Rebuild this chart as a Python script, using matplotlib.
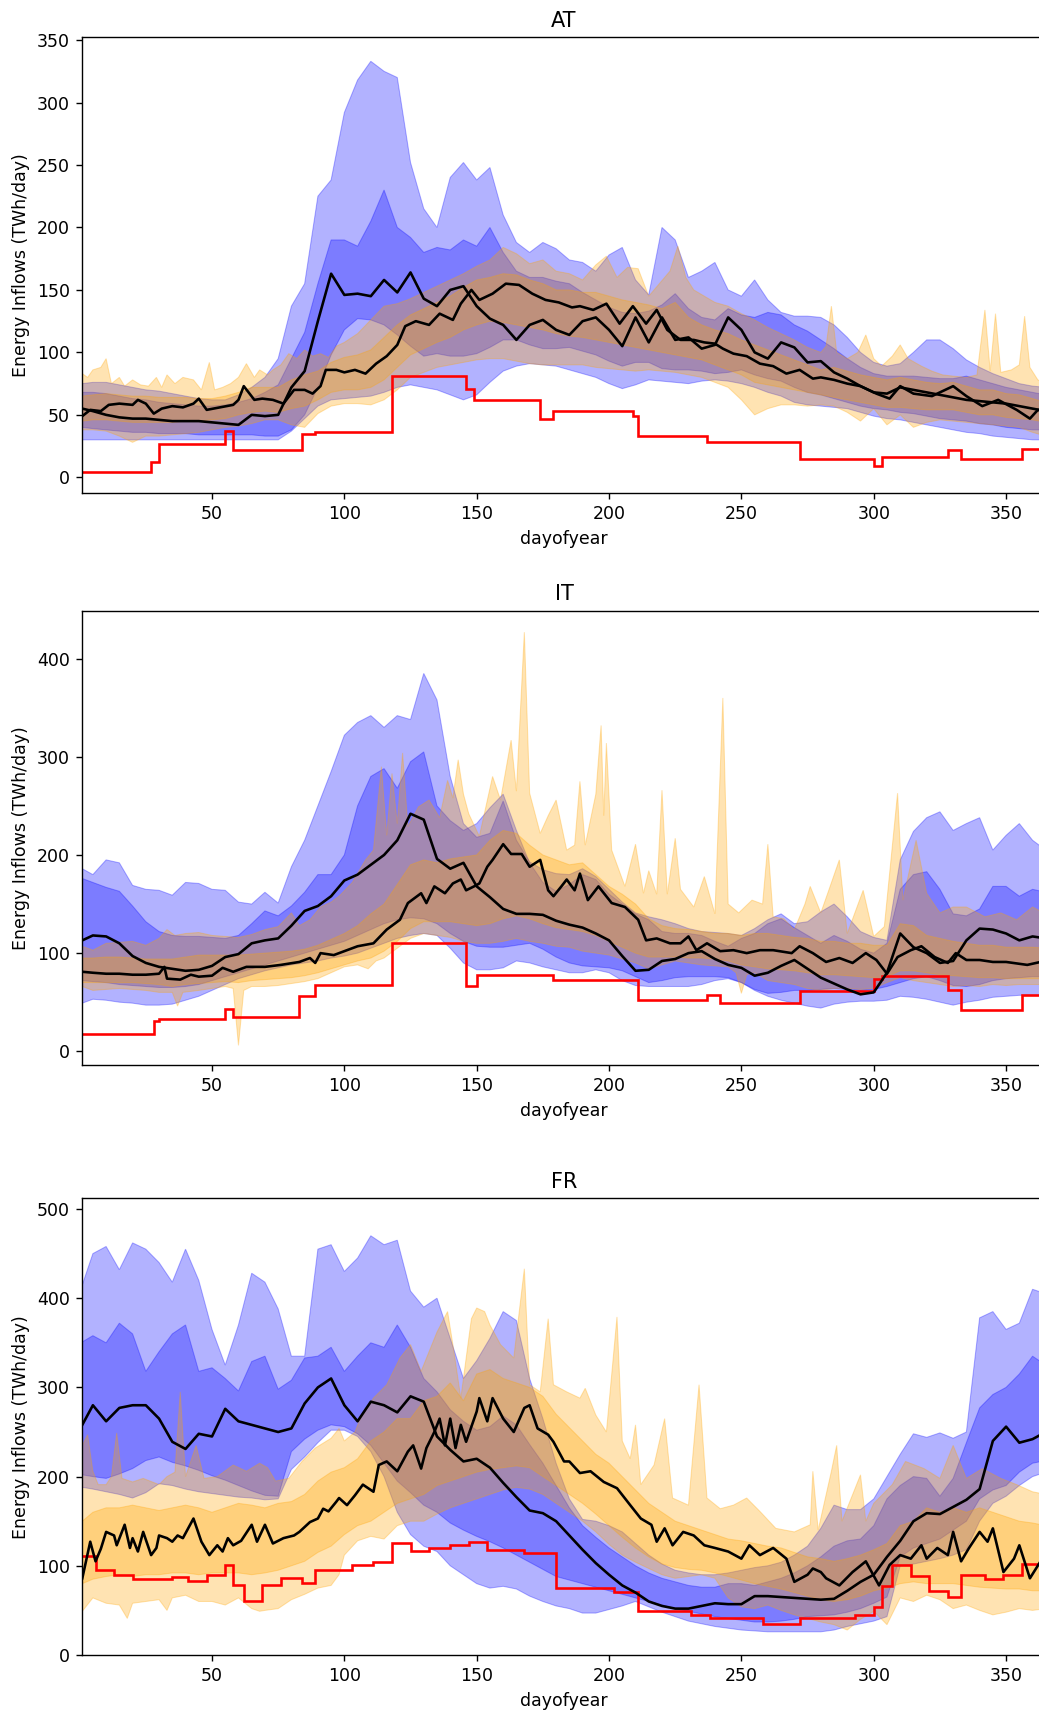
"""Energy inflows per day of year for AT, IT and FR.

Blue: historical envelope (outer = min/max, inner = quantile band),
orange: simulated inflows, black: medians, red: reference step profile.
"""

import matplotlib
matplotlib.use("Agg")
import matplotlib.pyplot as plt  # noqa: E402
import numpy as np  # noqa: E402

# common day grid for the smooth bands (1, 5, 10, ..., 365)
DAYS = [1] + list(range(5, 366, 5))

# ---------------------------------------------------------------- AT
AT_B_OUT_HI = [75, 76, 76, 74, 72, 70, 69, 67, 65, 63,
               62, 62, 66, 72, 80, 95, 137, 155, 225, 238,
               292, 318, 333, 325, 320, 252, 215, 200, 240, 252,
               238, 248, 210, 188, 180, 188, 183, 174, 172, 165,
               178, 184, 158, 146, 200, 190, 160, 165, 172, 150,
               145, 158, 142, 132, 129, 129, 128, 122, 112, 100,
               92, 89, 91, 100, 110, 110, 103, 94, 88, 83,
               79, 75, 73, 72]
AT_B_OUT_LO = [30, 30, 30, 30, 30, 30, 30, 30, 30, 30,
               30, 30, 30, 30, 30, 30, 37, 47, 57, 62,
               63, 64, 65, 68, 72, 74, 72, 70, 66, 62,
               66, 76, 85, 89, 91, 90, 89, 86, 83, 80,
               75, 71, 74, 78, 77, 76, 75, 77, 78, 77,
               75, 72, 68, 65, 60, 58, 57, 56, 55, 52,
               49, 47, 46, 44, 42, 40, 38, 36, 35, 33,
               32, 31, 30, 30]
AT_B_IN_HI = [68, 68, 67, 65, 63, 62, 60, 59, 58, 57,
              57, 58, 60, 63, 68, 74, 95, 116, 155, 190,
              190, 185, 205, 230, 200, 192, 180, 184, 182, 190,
              185, 200, 180, 165, 160, 160, 157, 155, 148, 142,
              136, 132, 131, 133, 138, 147, 135, 128, 126, 135,
              130, 128, 132, 130, 122, 117, 110, 103, 95, 88,
              83, 81, 81, 81, 80, 79, 79, 81, 78, 75,
              72, 70, 68, 66]
AT_B_IN_LO = [40, 39, 38, 37, 36, 36, 35, 35, 35, 34,
              34, 34, 34, 34, 33, 33, 38, 50, 72, 98,
              118, 127, 126, 122, 114, 105, 97, 99, 97, 97,
              99, 104, 110, 110, 106, 103, 103, 104, 101, 98,
              93, 89, 92, 92, 87, 86, 86, 85, 83, 84,
              86, 82, 79, 77, 72, 68, 66, 63, 60, 57,
              55, 54, 52, 51, 49, 47, 46, 45, 43, 42,
              40, 39, 38, 38]
AT_B_MED = [55, 53, 50, 48, 47, 47, 46, 45, 45, 45,
            44, 43, 42, 50, 49, 50, 72, 85, 125, 163,
            146, 147, 145, 158, 148, 164, 143, 137, 150, 153,
            137, 127, 122, 110, 122, 126, 118, 114, 125, 128,
            118, 105, 128, 108, 128, 110, 112, 103, 106, 128,
            118, 100, 95, 108, 104, 92, 93, 84, 79, 73,
            68, 67, 72, 70, 68, 66, 64, 62, 61, 60,
            59, 57, 55, 53]
AT_O_IN_HI = [65, 66, 67, 66, 65, 65, 64, 64, 64, 63,
              63, 65, 68, 72, 72, 72, 78, 82, 85, 92,
              96, 98, 102, 112, 122, 130, 135, 140, 145, 152,
              158, 160, 163, 162, 158, 155, 150, 150, 148, 148,
              145, 142, 140, 138, 135, 140, 128, 122, 118, 115,
              110, 106, 102, 98, 94, 90, 86, 88, 85, 82,
              80, 78, 80, 78, 76, 75, 76, 73, 70, 70,
              67, 66, 63, 60]
AT_O_IN_LO = [45, 46, 46, 45, 44, 44, 44, 44, 45, 45,
              46, 47, 50, 52, 53, 52, 55, 57, 62, 68,
              70, 70, 72, 78, 88, 98, 103, 108, 112, 118,
              122, 125, 124, 122, 120, 118, 115, 113, 112, 110,
              108, 106, 104, 102, 100, 98, 96, 94, 90, 86,
              82, 76, 74, 72, 70, 68, 66, 64, 62, 60,
              58, 56, 56, 55, 54, 54, 54, 52, 50, 50,
              48, 47, 46, 44]
AT_O_OUT_LO_D = DAYS
AT_O_OUT_LO = [38, 38, 37, 33, 28, 33, 33, 34, 35, 36,
               38, 40, 41, 43, 46, 46, 42, 40, 51, 57,
               59, 59, 58, 62, 70, 80, 84, 88, 90, 92,
               94, 95, 95, 93, 91, 90, 90, 90, 90, 88,
               87, 86, 85, 86, 85, 84, 82, 80, 76, 72,
               62, 50, 55, 58, 58, 57, 58, 57, 52, 45,
               55, 42, 50, 40, 44, 46, 45, 44, 43, 42,
               41, 40, 36, 33]
AT_O_OUT_HI_D = [1, 3, 5, 8, 10, 12, 15, 17, 20, 23,
                 26, 29, 31, 33, 36, 39, 43, 46, 49, 51,
                 54, 57, 60, 63, 66, 68, 71, 73, 76, 79,
                 82, 85, 88, 91, 94, 97, 100, 105, 110, 115,
                 120, 125, 130, 135, 140, 145, 150, 155, 160, 165,
                 170, 175, 180, 185, 190, 195, 199, 203, 207, 211,
                 215, 219, 223, 226, 229, 232, 236, 240, 245, 250,
                 255, 260, 265, 270, 275, 280, 282, 284, 286, 290,
                 294, 297, 300, 303, 307, 310, 313, 318, 322, 326,
                 330, 335, 339, 342, 344, 346, 348, 352, 355, 357,
                 359, 362, 365]
AT_O_OUT_HI = [83, 80, 86, 88, 95, 75, 80, 73, 78, 74,
               73, 80, 72, 82, 75, 80, 78, 70, 92, 70,
               72, 75, 80, 91, 80, 86, 82, 86, 90, 99,
               95, 102, 97, 99, 96, 105, 108, 115, 126, 137,
               139, 143, 148, 153, 158, 163, 169, 174, 184, 179,
               171, 174, 165, 163, 158, 170, 177, 160, 168, 167,
               145, 155, 165, 185, 160, 150, 145, 140, 137, 131,
               126, 120, 115, 110, 104, 100, 105, 137, 100, 95,
               100, 114, 95, 89, 97, 106, 95, 89, 85, 82,
               81, 80, 82, 134, 85, 131, 84, 86, 90, 129,
               88, 78, 75]
AT_O_MED_D = [1, 4, 8, 11, 15, 20, 22, 25, 28, 31,
              35, 39, 43, 45, 48, 53, 58, 60, 62, 66,
              69, 73, 77, 81, 85, 88, 91, 93, 97, 100,
              104, 108, 112, 116, 120, 123, 127, 132, 136, 141,
              144, 148, 151, 156, 161, 166, 171, 176, 181, 186,
              189, 194, 199, 204, 209, 214, 218, 222, 227, 232,
              236, 240, 243, 247, 252, 257, 262, 267, 272, 277,
              280, 285, 290, 295, 301, 306, 310, 315, 322, 330,
              335, 341, 347, 354, 359, 362, 365]
AT_O_MED = [49, 54, 53, 58, 59, 58, 62, 59, 51, 55,
            57, 56, 59, 63, 54, 56, 58, 62, 73, 62,
            63, 62, 59, 70, 70, 67, 73, 86, 86, 84,
            86, 83, 91, 97, 106, 121, 125, 122, 131, 126,
            139, 150, 142, 147, 155, 154, 147, 142, 140, 136,
            137, 134, 139, 123, 137, 123, 134, 118, 110, 110,
            108, 107, 103, 99, 97, 91, 89, 83, 86, 79,
            80, 78, 75, 73, 67, 63, 73, 67, 65, 73,
            65, 57, 62, 54, 47, 54, 52]
AT_RED_EDGES = [1, 27, 30, 55, 58, 84, 89, 118, 146, 149, 174,
                179, 209, 211, 237, 272, 300, 303, 328, 333, 356, 365]
AT_RED_LEVELS = [4, 12, 27, 37, 22, 35, 36, 81, 71, 62,
                 47, 53, 49, 33, 28, 15, 9, 16, 22, 15, 23]

# ---------------------------------------------------------------- IT
IT_B_OUT_HI = [186, 180, 195, 192, 169, 165, 164, 159, 172, 171,
               165, 164, 152, 150, 162, 151, 188, 215, 250, 285,
               322, 335, 342, 330, 342, 338, 385, 358, 280, 232,
               218, 222, 255, 215, 193, 185, 181, 180, 186, 178,
               165, 152, 141, 137, 134, 130, 125, 122, 121, 120,
               118, 125, 134, 140, 130, 132, 142, 150, 137, 122,
               116, 113, 195, 224, 238, 244, 225, 232, 238, 205,
               220, 232, 215, 205]
IT_B_OUT_LO = [49, 53, 52, 50, 49, 47, 47, 48, 52, 56,
               62, 68, 74, 78, 82, 85, 88, 90, 92, 95,
               97, 100, 105, 110, 115, 118, 120, 118, 105, 90,
               83, 83, 85, 92, 90, 86, 83, 80, 80, 83,
               80, 72, 67, 66, 66, 66, 66, 68, 72, 74,
               70, 62, 56, 52, 49, 46, 44, 48, 50, 51,
               51, 52, 56, 55, 53, 50, 47, 50, 52, 55,
               56, 57, 57, 57]
IT_B_IN_HI = [176, 172, 167, 163, 148, 132, 122, 118, 117, 117,
              116, 115, 118, 130, 143, 138, 148, 162, 180, 180,
              200, 250, 280, 288, 268, 295, 305, 250, 235, 225,
              232, 248, 262, 225, 192, 172, 163, 170, 180, 175,
              160, 150, 140, 134, 122, 120, 120, 118, 112, 107,
              115, 120, 130, 135, 126, 118, 110, 118, 112, 104,
              100, 110, 165, 180, 183, 165, 140, 138, 145, 168,
              168, 158, 165, 162]
IT_B_IN_LO = [72, 71, 70, 68, 67, 66, 65, 65, 66, 68,
              72, 76, 80, 84, 88, 92, 96, 100, 104, 108,
              112, 118, 124, 130, 134, 136, 135, 130, 120, 112,
              107, 106, 106, 108, 110, 104, 96, 90, 87, 86,
              85, 82, 76, 70, 72, 75, 76, 76, 76, 75,
              70, 63, 59, 60, 62, 62, 63, 64, 63, 62,
              63, 66, 70, 74, 76, 72, 67, 66, 68, 72,
              74, 75, 76, 76]
IT_B_MED = [113, 118, 117, 110, 97, 90, 86, 84, 82, 83,
            87, 96, 99, 110, 113, 115, 128, 143, 148, 158,
            174, 180, 190, 200, 215, 242, 236, 196, 186, 192,
            168, 157, 145, 140, 140, 139, 133, 129, 126, 120,
            113, 97, 82, 83, 92, 94, 100, 102, 94, 88,
            85, 77, 80, 87, 93, 84, 75, 69, 63, 58,
            60, 80, 120, 106, 100, 90, 92, 113, 125, 124,
            120, 113, 117, 115]
IT_O_IN_HI = [95, 95, 96, 96, 95, 94, 94, 94, 96, 98,
              98, 98, 98, 99, 100, 101, 102, 104, 108, 114,
              120, 128, 140, 150, 170, 190, 195, 192, 196, 198,
              200, 215, 225, 222, 210, 200, 195, 190, 192, 180,
              168, 160, 150, 135, 128, 125, 124, 122, 120, 120,
              118, 120, 120, 118, 116, 115, 112, 112, 110, 110,
              108, 108, 130, 128, 118, 115, 112, 110, 108, 108,
              106, 106, 106, 105]
IT_O_IN_LO = [70, 70, 70, 70, 70, 69, 68, 66, 68, 69,
              70, 71, 70, 72, 73, 74, 75, 77, 80, 84,
              88, 92, 95, 102, 112, 125, 132, 132, 132, 130,
              128, 130, 135, 138, 135, 130, 126, 124, 122, 118,
              112, 106, 100, 96, 96, 96, 95, 95, 94, 92,
              88, 86, 84, 83, 82, 80, 78, 78, 77, 76,
              75, 76, 82, 82, 80, 78, 77, 76, 75, 75,
              74, 74, 74, 74]
IT_O_OUT_HI_D = [1, 5, 10, 15, 20, 25, 30, 33, 36, 40,
                 45, 50, 55, 60, 65, 70, 75, 80, 83, 87,
                 91, 95, 98, 103, 108, 111, 114, 116, 118, 120,
                 122, 124, 128, 132, 136, 139, 141, 143, 145, 147,
                 151, 156, 159, 163, 165, 168, 170, 174, 177, 180,
                 184, 187, 189, 191, 195, 197, 198, 199, 201, 206,
                 210, 213, 215, 218, 220, 222, 225, 227, 232, 236,
                 240, 243, 245, 249, 254, 258, 260, 262, 266, 270,
                 274, 276, 280, 283, 287, 290, 296, 300, 304, 309,
                 311, 316, 320, 325, 330, 335, 342, 348, 354, 360,
                 365]
IT_O_OUT_HI = [107, 103, 110, 111, 112, 108, 115, 124, 118, 120,
               121, 118, 117, 116, 119, 124, 127, 141, 128, 134,
               147, 152, 158, 172, 195, 205, 290, 220, 283, 232,
               304, 229, 249, 256, 238, 276, 258, 297, 262, 242,
               219, 280, 256, 317, 265, 427, 263, 222, 240, 256,
               205, 210, 275, 210, 262, 332, 240, 314, 205, 168,
               211, 161, 184, 160, 266, 160, 217, 165, 147, 178,
               140, 360, 150, 141, 154, 150, 211, 137, 135, 124,
               150, 168, 141, 164, 195, 120, 164, 117, 127, 263,
               154, 215, 161, 141, 147, 147, 137, 141, 134, 147,
               140]
IT_O_OUT_LO_D = [1, 5, 10, 15, 20, 25, 30, 35, 37, 39,
                 45, 50, 55, 58, 60, 62, 65, 70, 75, 80,
                 85, 90, 95, 100, 105, 109, 112, 115, 120, 125,
                 130, 135, 140, 145, 150, 155, 160, 165, 170, 175,
                 180, 185, 190, 195, 200, 205, 210, 215, 220, 225,
                 230, 235, 240, 245, 248, 250, 252, 255, 260, 265,
                 270, 275, 280, 285, 290, 295, 300, 305, 310, 315,
                 320, 325, 330, 335, 340, 345, 350, 355, 360, 365]
IT_O_OUT_LO = [66, 62, 63, 64, 63, 62, 60, 60, 46, 60,
               62, 64, 66, 64, 6, 62, 66, 66, 67, 69,
               71, 74, 80, 86, 88, 84, 92, 95, 105, 115,
               120, 118, 116, 112, 110, 110, 112, 115, 112, 110,
               107, 106, 102, 100, 98, 94, 90, 84, 88, 92,
               90, 88, 87, 86, 80, 59, 78, 80, 72, 70,
               68, 64, 62, 64, 64, 63, 64, 70, 75, 72,
               70, 68, 66, 67, 66, 68, 67, 68, 68, 68]
IT_O_MED_D = [1, 5, 10, 15, 20, 25, 30, 32, 33, 38,
              42, 45, 50, 54, 58, 63, 70, 76, 83, 87,
              89, 91, 96, 101, 105, 111, 116, 121, 124, 129,
              131, 134, 138, 141, 144, 146, 149, 151, 154, 156,
              160, 163, 167, 170, 174, 177, 179, 182, 184, 187,
              189, 192, 196, 201, 206, 211, 214, 218, 223, 227,
              230, 233, 237, 242, 247, 252, 257, 262, 269, 272,
              277, 282, 287, 292, 297, 301, 305, 309, 314, 318,
              323, 328, 331, 335, 340, 345, 350, 358, 363, 365]
IT_O_MED = [81, 80, 79, 79, 78, 78, 79, 86, 74, 73,
            78, 76, 77, 85, 81, 86, 86, 88, 91, 95,
            90, 100, 98, 103, 107, 110, 124, 134, 151, 161,
            151, 168, 161, 171, 175, 164, 168, 171, 188, 195,
            211, 201, 201, 188, 195, 164, 158, 168, 175, 164,
            181, 154, 168, 151, 147, 134, 113, 115, 110, 110,
            117, 103, 110, 102, 103, 100, 103, 103, 100, 107,
            100, 91, 95, 90, 100, 93, 79, 96, 103, 107,
            96, 90, 100, 93, 93, 91, 91, 88, 91, 90]
IT_RED_EDGES = [1, 28, 30, 55, 58, 83, 89, 118, 146, 150, 179,
                211, 237, 242, 272, 300, 303, 328, 333, 356, 365]
IT_RED_LEVELS = [18, 31, 33, 43, 35, 56, 68, 110, 66, 78,
                 73, 52, 57, 49, 61, 74, 77, 62, 42, 57]

# ---------------------------------------------------------------- FR
FR_B_OUT_HI = [415, 450, 458, 432, 462, 455, 440, 418, 455, 420,
               365, 325, 370, 428, 418, 388, 335, 335, 455, 460,
               430, 445, 470, 460, 465, 408, 390, 400, 355, 310,
               330, 355, 385, 375, 310, 265, 215, 175, 152, 150,
               145, 138, 125, 112, 102, 95, 92, 90, 90, 92,
               95, 98, 100, 104, 112, 122, 142, 168, 163, 163,
               175, 200, 225, 248, 244, 249, 243, 250, 378, 385,
               365, 372, 410, 405]
FR_B_OUT_LO = [188, 186, 183, 180, 176, 182, 192, 190, 186, 183,
               181, 179, 177, 176, 174, 175, 208, 222, 238, 252,
               252, 245, 228, 200, 160, 135, 122, 116, 100, 90,
               80, 75, 77, 74, 66, 60, 55, 52, 47, 47,
               51, 55, 60, 54, 48, 43, 38, 35, 32, 30,
               28, 27, 26, 26, 26, 26, 26, 28, 32, 35,
               38, 43, 100, 102, 105, 108, 112, 118, 150, 170,
               178, 190, 200, 205]
FR_B_IN_HI = [351, 358, 350, 372, 360, 318, 340, 360, 370, 318,
              322, 310, 296, 329, 335, 298, 308, 333, 335, 345,
              318, 335, 350, 345, 370, 345, 310, 295, 275, 262,
              252, 256, 268, 258, 236, 215, 190, 165, 145, 132,
              120, 110, 100, 92, 86, 82, 78, 76, 76, 80,
              80, 78, 82, 86, 92, 100, 110, 122, 128, 130,
              145, 175, 190, 200, 198, 178, 198, 238, 277, 292,
              300, 315, 335, 325]
FR_B_IN_LO = [202, 200, 198, 203, 209, 218, 222, 216, 212, 207,
              201, 196, 190, 184, 179, 178, 228, 242, 252, 258,
              256, 248, 235, 215, 195, 182, 168, 160, 148, 140,
              133, 127, 120, 112, 104, 96, 88, 84, 80, 76,
              72, 68, 64, 60, 56, 52, 49, 46, 43, 41,
              39, 37, 37, 38, 40, 43, 44, 45, 48, 52,
              58, 65, 110, 120, 125, 130, 140, 150, 175, 185,
              190, 205, 215, 218]
FR_B_MED = [258, 280, 262, 277, 280, 280, 265, 239, 231, 248,
            245, 276, 262, 258, 254, 250, 254, 282, 300, 310,
            280, 262, 284, 280, 272, 290, 284, 245, 230, 217,
            220, 210, 193, 177, 162, 159, 150, 134, 118, 103,
            90, 78, 70, 60, 55, 52, 52, 55, 58, 57,
            57, 66, 66, 65, 64, 63, 62, 63, 72, 82,
            90, 110, 128, 150, 159, 158, 166, 174, 186, 240,
            256, 238, 242, 250]
FR_O_IN_HI = [150, 160, 165, 165, 168, 165, 162, 165, 168, 165,
              160, 165, 170, 168, 165, 170, 172, 180, 195, 205,
              210, 220, 240, 250, 265, 265, 285, 290, 305, 285,
              315, 320, 310, 305, 300, 290, 270, 255, 240, 225,
              215, 200, 185, 170, 160, 150, 145, 140, 135, 130,
              128, 125, 122, 120, 115, 110, 108, 105, 108, 112,
              118, 125, 145, 150, 165, 160, 165, 160, 165, 160,
              155, 150, 148, 145]
FR_O_IN_LO = [80, 85, 88, 90, 88, 90, 90, 92, 92, 90,
              92, 92, 92, 90, 92, 95, 100, 105, 115, 122,
              135, 145, 150, 160, 170, 175, 180, 190, 195, 200,
              205, 208, 210, 212, 210, 200, 190, 180, 170, 158,
              145, 132, 120, 110, 102, 98, 96, 95, 92, 88,
              84, 80, 77, 74, 70, 66, 62, 60, 62, 66,
              72, 75, 80, 82, 80, 80, 80, 78, 76, 75,
              74, 74, 72, 72]
FR_O_OUT_HI_D = [1, 3, 5, 7, 10, 12, 14, 16, 20, 24,
                 30, 33, 36, 38, 40, 44, 47, 52, 58, 63,
                 68, 71, 74, 79, 84, 89, 95, 98, 100, 104,
                 106, 111, 116, 121, 125, 129, 132, 135, 139, 141,
                 144, 148, 150, 153, 155, 159, 164, 168, 170, 174,
                 177, 179, 184, 189, 191, 195, 199, 203, 205, 208,
                 210, 212, 217, 221, 224, 230, 234, 237, 242, 247,
                 252, 257, 263, 270, 276, 277, 279, 284, 286, 288,
                 295, 297, 300, 307, 312, 319, 325, 330, 335, 341,
                 348, 354, 360, 365]
FR_O_OUT_HI = [235, 247, 206, 191, 191, 200, 249, 198, 194, 198,
               191, 200, 205, 295, 200, 235, 198, 200, 213, 206,
               215, 210, 195, 198, 217, 232, 243, 254, 240, 250,
               265, 288, 303, 333, 348, 318, 340, 362, 385, 348,
               288, 377, 389, 385, 370, 348, 333, 433, 303, 295,
               377, 303, 295, 288, 299, 269, 250, 379, 240, 220,
               258, 191, 213, 265, 176, 168, 303, 176, 164, 168,
               176, 161, 142, 138, 146, 206, 140, 206, 235, 150,
               202, 150, 170, 191, 217, 209, 198, 235, 198, 209,
               198, 191, 183, 180]
FR_O_OUT_LO_D = [1, 5, 10, 15, 18, 20, 25, 30, 33, 35,
                 40, 45, 50, 55, 60, 65, 68, 70, 75, 80,
                 85, 90, 95, 98, 100, 105, 110, 115, 120, 125,
                 130, 135, 140, 145, 150, 155, 160, 165, 170, 175,
                 180, 185, 190, 195, 200, 205, 210, 215, 220, 225,
                 230, 235, 240, 245, 250, 255, 260, 265, 270, 275,
                 280, 285, 290, 295, 300, 305, 310, 315, 320, 325,
                 330, 335, 340, 345, 350, 355, 360, 365]
FR_O_OUT_LO = [49, 64, 58, 56, 41, 58, 60, 62, 50, 64,
               67, 60, 60, 56, 64, 52, 49, 50, 52, 62,
               68, 75, 78, 90, 112, 128, 133, 130, 145, 150,
               150, 158, 165, 170, 175, 180, 185, 188, 186, 180,
               170, 160, 150, 138, 124, 112, 104, 97, 90, 86,
               88, 90, 86, 64, 54, 52, 56, 50, 45, 41,
               37, 34, 28, 40, 49, 34, 64, 60, 67, 62,
               52, 56, 50, 45, 48, 52, 50, 52]
FR_O_MED_D = [1, 4, 6, 8, 10, 13, 14, 17, 19, 20,
              22, 24, 27, 29, 30, 33, 35, 37, 39, 43,
              46, 49, 52, 54, 56, 58, 61, 65, 67, 70,
              73, 77, 81, 83, 87, 90, 92, 94, 97, 98,
              101, 104, 107, 111, 113, 116, 120, 124, 126, 129,
              131, 134, 136, 138, 140, 142, 144, 146, 150, 151,
              154, 156, 160, 164, 168, 170, 173, 177, 179, 181,
              183, 185, 189, 193, 198, 203, 208, 212, 216, 218,
              221, 224, 228, 232, 236, 240, 245, 250, 253, 257,
              262, 267, 270, 275, 277, 280, 282, 287, 292, 297,
              302, 306, 310, 314, 318, 320, 324, 328, 330, 333,
              336, 340, 343, 345, 349, 353, 355, 359, 363, 365]
FR_O_MED = [86, 127, 105, 119, 138, 134, 123, 146, 120, 131,
            116, 138, 112, 120, 134, 131, 127, 134, 131, 153,
            127, 112, 123, 116, 131, 123, 128, 146, 127, 146,
            125, 131, 134, 138, 149, 153, 164, 161, 172, 176,
            168, 179, 191, 183, 213, 217, 206, 228, 235, 209,
            232, 250, 265, 235, 265, 232, 258, 239, 273, 288,
            262, 288, 265, 250, 277, 280, 254, 247, 239, 228,
            217, 217, 204, 206, 194, 187, 168, 153, 146, 127,
            142, 123, 138, 134, 123, 120, 116, 108, 123, 112,
            120, 108, 82, 90, 97, 93, 86, 78, 93, 105,
            78, 101, 112, 108, 123, 108, 120, 112, 138, 105,
            120, 138, 127, 142, 93, 108, 123, 86, 105, 100]
FR_RED_EDGES = [1, 6, 13, 20, 35, 41, 48, 55, 58, 62,
                69, 76, 84, 89, 103, 111, 118, 125, 132, 140,
                147, 154, 168, 180, 202, 211, 231, 238, 258, 272,
                293, 300, 303, 307, 314, 321, 328, 333, 342, 349,
                356, 365]
FR_RED_LEVELS = [111, 95, 90, 85, 88, 83, 90, 101, 78, 60,
                 79, 86, 81, 95, 101, 104, 126, 117, 120, 123,
                 127, 118, 114, 75, 71, 49, 45, 42, 35, 41,
                 45, 54, 77, 101, 89, 72, 65, 90, 85, 90,
                 102]

TITLES = ["AT", "IT", "FR"]

# layout (figure fractions) and y ranges; the axes run past the right edge
W, H, DPI = 1039, 1724, 125
AXES_RECTS = [
    [82.3 / W, 1 - 492.7 / H, 963.5 / W, 455.4 / H],
    [82.3 / W, 1 - 1065.3 / H, 963.5 / W, 454.6 / H],
    [82.3 / W, 1 - 1655.0 / H, 963.5 / W, 456.7 / H],
]
YLIMS = [(-12.3, 352.2), (-14.3, 448.9), (0, 512)]
ALPHA = 0.3


def band(ax, x_hi, hi, x_lo, lo, color):
    x_hi, hi = np.asarray(x_hi), np.asarray(hi)
    x_lo, lo = np.asarray(x_lo), np.asarray(lo)
    ax.fill(np.concatenate([x_hi, x_lo[::-1]]),
            np.concatenate([hi, lo[::-1]]),
            color=color, alpha=ALPHA, lw=0.6)


def draw_panel(ax, title, ylim, d):
    band(ax, DAYS, d["b_out_hi"], DAYS, d["b_out_lo"], "blue")
    band(ax, DAYS, d["b_in_hi"], DAYS, d["b_in_lo"], "blue")
    band(ax, d["o_out_hi_d"], d["o_out_hi"],
         d["o_out_lo_d"], d["o_out_lo"], "orange")
    band(ax, DAYS, d["o_in_hi"], DAYS, d["o_in_lo"], "orange")
    ax.plot(DAYS, d["b_med"], color="black", lw=1.5)
    ax.plot(d["o_med_d"], d["o_med"], color="black", lw=1.5)
    ax.stairs(d["red_levels"], d["red_edges"], color="red", lw=1.5,
              baseline=None)
    ax.set_xlim(1, 365)
    ax.set_ylim(*ylim)
    ax.set_title(title)
    ax.set_xlabel("dayofyear")
    ax.set_ylabel("Energy Inflows (TWh/day)")


def main() -> int:
    panels = [
        dict(b_out_hi=AT_B_OUT_HI, b_out_lo=AT_B_OUT_LO,
             b_in_hi=AT_B_IN_HI, b_in_lo=AT_B_IN_LO, b_med=AT_B_MED,
             o_out_hi_d=AT_O_OUT_HI_D, o_out_hi=AT_O_OUT_HI,
             o_out_lo_d=AT_O_OUT_LO_D, o_out_lo=AT_O_OUT_LO,
             o_in_hi=AT_O_IN_HI, o_in_lo=AT_O_IN_LO,
             o_med_d=AT_O_MED_D, o_med=AT_O_MED,
             red_edges=AT_RED_EDGES, red_levels=AT_RED_LEVELS),
        dict(b_out_hi=IT_B_OUT_HI, b_out_lo=IT_B_OUT_LO,
             b_in_hi=IT_B_IN_HI, b_in_lo=IT_B_IN_LO, b_med=IT_B_MED,
             o_out_hi_d=IT_O_OUT_HI_D, o_out_hi=IT_O_OUT_HI,
             o_out_lo_d=IT_O_OUT_LO_D, o_out_lo=IT_O_OUT_LO,
             o_in_hi=IT_O_IN_HI, o_in_lo=IT_O_IN_LO,
             o_med_d=IT_O_MED_D, o_med=IT_O_MED,
             red_edges=IT_RED_EDGES, red_levels=IT_RED_LEVELS),
        dict(b_out_hi=FR_B_OUT_HI, b_out_lo=FR_B_OUT_LO,
             b_in_hi=FR_B_IN_HI, b_in_lo=FR_B_IN_LO, b_med=FR_B_MED,
             o_out_hi_d=FR_O_OUT_HI_D, o_out_hi=FR_O_OUT_HI,
             o_out_lo_d=FR_O_OUT_LO_D, o_out_lo=FR_O_OUT_LO,
             o_in_hi=FR_O_IN_HI, o_in_lo=FR_O_IN_LO,
             o_med_d=FR_O_MED_D, o_med=FR_O_MED,
             red_edges=FR_RED_EDGES, red_levels=FR_RED_LEVELS),
    ]

    fig = plt.figure(figsize=(W / DPI, H / DPI), dpi=DPI)
    for rect, title, ylim, d in zip(AXES_RECTS, TITLES, YLIMS, panels):
        ax = fig.add_axes(rect)
        draw_panel(ax, title, ylim, d)
    fig.savefig("out.png", dpi=DPI)
    plt.close(fig)
    return 0


if __name__ == "__main__":
    raise SystemExit(main())
